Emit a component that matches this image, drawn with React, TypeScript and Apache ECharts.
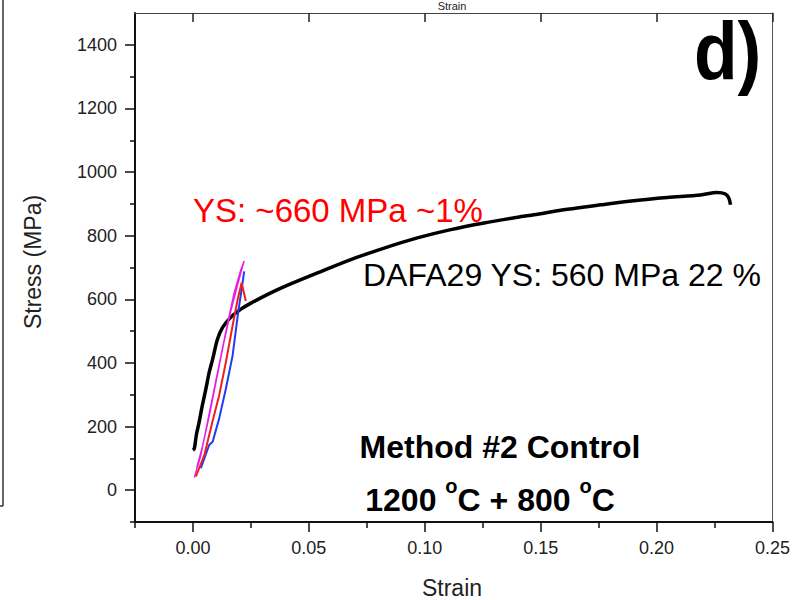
import React, { useEffect, useRef } from "react";
import * as echarts from "echarts";

// Tick values (strain / stress)
const xMajorTicks = [0, 0.05, 0.1, 0.15, 0.2, 0.25];
const xMinorTicks = [-0.025, 0.025, 0.075, 0.125, 0.175, 0.225];
const yMajorTicks = [0, 200, 400, 600, 800, 1000, 1200, 1400];
const yMinorTicks = [-100, 100, 300, 500, 700, 900, 1100, 1300];

// DAFA29 full tensile curve (strain, MPa)
const blackStrain = [0.0, 0.0006, 0.0015, 0.0027, 0.004, 0.0056, 0.007, 0.0085, 0.0106, 0.0128, 0.0164, 0.0207, 0.025, 0.0329, 0.0394, 0.0537, 0.0681, 0.0825, 0.0968, 0.1112, 0.1256, 0.14, 0.1471, 0.1615, 0.1759, 0.1902, 0.2046, 0.219, 0.2261, 0.2297, 0.2312, 0.2319];
const blackStress = [126, 131, 175, 215, 265, 319, 370, 412, 475, 512, 544, 569, 588, 618, 640, 683, 725, 761, 793, 819, 840, 858, 866, 883, 897, 910, 920, 928, 936, 931, 918, 897];

// Magenta specimen
const magentaStrain = [0.0006, 0.0034, 0.0063, 0.0092, 0.0121, 0.015, 0.0178, 0.0207, 0.0221, 0.0214, 0.0192, 0.0162, 0.0132, 0.0102, 0.0072, 0.0042, 0.0016];
const magentaStress = [40, 110, 215, 319, 423, 527, 621, 694, 720, 704, 644, 560, 460, 350, 240, 140, 70];

// Red specimen
const redStrain = [0.0013, 0.0049, 0.0084, 0.0113, 0.0142, 0.0171, 0.0193, 0.021, 0.0228];
const redStress = [43, 110, 215, 298, 402, 517, 600, 652, 595];

// Blue specimen
const blueStrain = [0.0034, 0.007, 0.0085, 0.0113, 0.0142, 0.0171, 0.0193, 0.0214, 0.0221];
const blueStress = [69, 142, 152, 225, 319, 423, 548, 652, 688];

const zip = (a: number[], b: number[]) => a.map((v, i) => [v, b[i]]);

const AXIS_FONT = "'Liberation Sans', Arial, sans-serif";
const NOTE_FONT = "'Liberation Sans', Arial, sans-serif";

export default function App() {
  const ref = useRef<HTMLDivElement>(null);
  useEffect(() => {
    if (!ref.current) return;
    const chart = echarts.init(ref.current, undefined, { renderer: "svg" });
    const xBase = { type: "value", min: -0.025, max: 0.25, splitLine: { show: false } } as any;
    const yBase = { type: "value", min: -100, max: 1500, splitLine: { show: false } } as any;
    chart.setOption({
      animation: false,
      backgroundColor: "#ffffff",
      grid: { left: 135, right: 20, top: 13, bottom: 78 },
      xAxis: [
        {
          ...xBase,
          position: "bottom",
          axisLine: { show: true, onZero: false, lineStyle: { color: "#111", width: 2 } },
          axisTick: { show: true, customValues: xMajorTicks, length: 10, lineStyle: { color: "#111", width: 1.5 } },
          axisLabel: {
            show: true,
            customValues: xMajorTicks,
            formatter: (v: number) => v.toFixed(2),
            margin: 17,
            fontSize: 18,
            fontFamily: AXIS_FONT,
            color: "#222",
          },
        },
        {
          ...xBase,
          position: "bottom",
          axisLine: { show: false, onZero: false },
          axisTick: { show: true, customValues: xMinorTicks, length: 6, lineStyle: { color: "#111", width: 1.5 } },
          axisLabel: { show: false },
        },
        {
          ...xBase,
          position: "top",
          axisLine: { show: true, onZero: false, lineStyle: { color: "#444", width: 1 } },
          axisTick: { show: true, inside: true, customValues: xMajorTicks, length: 9, lineStyle: { color: "#222", width: 1.5 } },
          axisLabel: { show: false },
        },
      ],
      yAxis: [
        {
          ...yBase,
          position: "left",
          axisLine: { show: true, onZero: false, lineStyle: { color: "#111", width: 2 } },
          axisTick: { show: true, customValues: yMajorTicks, length: 10, lineStyle: { color: "#111", width: 1.5 } },
          axisLabel: {
            show: true,
            customValues: yMajorTicks,
            formatter: (v: number) => String(v),
            margin: 18,
            fontSize: 18,
            fontFamily: AXIS_FONT,
            color: "#222",
          },
        },
        {
          ...yBase,
          position: "left",
          axisLine: { show: false, onZero: false },
          axisTick: { show: true, customValues: yMinorTicks, length: 5, lineStyle: { color: "#111", width: 1.5 } },
          axisLabel: { show: false },
        },
        {
          ...yBase,
          position: "right",
          axisLine: { show: true, onZero: false, lineStyle: { color: "#555", width: 1 } },
          axisTick: { show: false },
          axisLabel: { show: false },
        },
      ],
      series: [
        {
          name: "DAFA29",
          type: "line",
          xAxisIndex: 0,
          yAxisIndex: 0,
          data: zip(blackStrain, blackStress),
          showSymbol: false,
          smooth: 0.3,
          lineStyle: { color: "#000", width: 3.5 },
          z: 3,
        },
        {
          name: "magenta",
          type: "line",
          data: zip(magentaStrain, magentaStress),
          showSymbol: false,
          lineStyle: { color: "#e61ee6", width: 1.5 },
          z: 4,
        },
        {
          name: "red",
          type: "line",
          data: zip(redStrain, redStress),
          showSymbol: false,
          lineStyle: { color: "#f01e1e", width: 2 },
          z: 5,
        },
        {
          name: "blue",
          type: "line",
          data: zip(blueStrain, blueStress),
          showSymbol: false,
          lineStyle: { color: "#1e3cf0", width: 2 },
          z: 4,
        },
      ],
      graphic: [
        {
          type: "line",
          shape: { x1: 3, y1: 0, x2: 3, y2: 506 },
          style: { stroke: "#333", lineWidth: 1.5 },
        },
        {
          type: "line",
          shape: { x1: 0, y1: 506, x2: 3, y2: 506 },
          style: { stroke: "#333", lineWidth: 1.5 },
        },
        {
          type: "text",
          x: 452,
          y: 0,
          style: { text: "Strain", fontSize: 11, fontFamily: AXIS_FONT, fill: "#222", align: "center", verticalAlign: "top" },
        },
        {
          type: "text",
          x: 452,
          y: 588,
          style: { text: "Strain", fontSize: 23, fontFamily: AXIS_FONT, fill: "#222", align: "center", verticalAlign: "middle" },
        },
        {
          type: "text",
          x: 33,
          y: 262,
          rotation: Math.PI / 2,
          style: { text: "Stress (MPa)", fontSize: 23, fontFamily: AXIS_FONT, fill: "#222", align: "center", verticalAlign: "middle" },
        },
        {
          type: "text",
          x: 694,
          y: 50,
          scaleX: 0.87,
          style: { text: "d)", fontSize: 82, fontWeight: "bold", fontFamily: NOTE_FONT, fill: "#000", align: "left", verticalAlign: "middle" },
        },
        {
          type: "text",
          x: 193,
          y: 210,
          style: { text: "YS: ~660 MPa ~1%", fontSize: 33, fontFamily: NOTE_FONT, fill: "#ff0000", align: "left", verticalAlign: "middle" },
        },
        {
          type: "text",
          x: 363,
          y: 275,
          style: { text: "DAFA29 YS: 560 MPa 22 %", fontSize: 32, fontFamily: NOTE_FONT, fill: "#000", align: "left", verticalAlign: "middle" },
        },
        {
          type: "text",
          x: 500,
          y: 447,
          style: { text: "Method #2 Control", fontSize: 32, fontWeight: "bold", fontFamily: NOTE_FONT, fill: "#000", align: "center", verticalAlign: "middle" },
        },
        {
          type: "text",
          x: 490,
          y: 500,
          style: {
            text: "1200 {sup|o}C + 800 {sup|o}C",
            fontSize: 32,
            lineHeight: 48,
            fontWeight: "bold",
            fontFamily: NOTE_FONT,
            fill: "#000",
            align: "center",
            verticalAlign: "middle",
            rich: {
              sup: { fontSize: 20, lineHeight: 20, fontWeight: "bold", fontFamily: NOTE_FONT, fill: "#000", verticalAlign: "top" },
            },
          },
        },
      ],
    });
    return () => chart.dispose();
  }, []);
  return (
    <div
      ref={ref}
      style={{ position: "absolute", left: 0, top: 0, width: 793, height: 600, background: "#fff" }}
    />
  );
}
